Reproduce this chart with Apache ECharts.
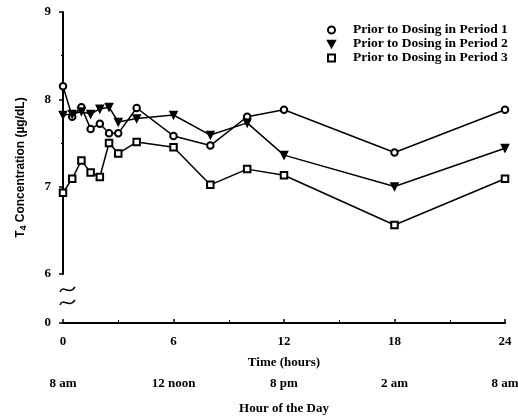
<!DOCTYPE html>
<html>
<head>
<meta charset="utf-8">
<script src="https://cdn.jsdelivr.net/npm/echarts@6/dist/echarts.min.js"></script>
<style>
  html, body { margin: 0; padding: 0; background: #fff; }
  #chart { width: 518px; height: 418px; }
</style>
</head>
<body>
<div id="chart"></div>
<script>
// Sampling times (hours after first sample)
const hours = [0, 0.5, 1, 1.5, 2, 2.5, 3, 4, 6, 8, 10, 12, 18, 24];

// T4 concentration (µg/dL) before dosing in each period
const period1 = [8.15, 7.80, 7.91, 7.66, 7.72, 7.61, 7.61, 7.90, 7.58, 7.47, 7.80, 7.88, 7.39, 7.88];
const period2 = [7.82, 7.83, 7.86, 7.83, 7.89, 7.91, 7.74, 7.78, 7.82, 7.59, 7.73, 7.36, 7.00, 7.44];
const period3 = [6.93, 7.09, 7.30, 7.16, 7.11, 7.50, 7.38, 7.51, 7.45, 7.02, 7.20, 7.13, 6.56, 7.09];

const seriesNames = ['Prior to Dosing in Period 1', 'Prior to Dosing in Period 2', 'Prior to Dosing in Period 3'];

// Axis tick labels
const timeTicks = [0, 6, 12, 18, 24];
const clockLabels = ['8 am', '12 noon', '8 pm', '2 am', '8 am'];

const FONT = 'Liberation Serif';
const INK = '#000';
const triDown = 'path://M0,0L10,0L5,9Z';

const pairs = arr => hours.map((h, i) => [h, arr[i]]);

const baseText = { fontFamily: FONT, fontWeight: 'bold', fontSize: 13, color: INK };

const lineSeries = (name, data, symbol, size) => ({
  name,
  type: 'line',
  data: pairs(data),
  symbol,
  symbolSize: size,
  showSymbol: true,
  lineStyle: { color: INK, width: 1.5 },
  itemStyle: { color: INK, borderColor: INK, borderWidth: 1.6 },
  emphasis: { disabled: true },
  animation: false
});

// small wavy break mark drawn across the value axis
const breakMark = (y) => ({
  type: 'bezierCurve',
  shape: { x1: 60, y1: y + 3, cpx1: 63, cpy1: y - 5, cpx2: 69, cpy2: y + 7, x2: 75, y2: y - 2 },
  style: { fill: null, stroke: INK, lineWidth: 1.5 },
  silent: true
});

const chart = echarts.init(document.getElementById('chart'), null, { renderer: 'canvas' });

chart.setOption({
  animation: false,
  backgroundColor: '#fff',
  grid: { left: 63, right: 13, top: 12, bottom: 95, containLabel: false, outerBoundsMode: 'none' },
  legend: {
    orient: 'vertical',
    left: 322,
    top: 18,
    itemGap: 0,
    itemWidth: 7,
    itemHeight: 7,
    textStyle: Object.assign({}, baseText, { fontSize: 13.5, padding: [0, 0, 0, 13] }),
    data: [
      { name: seriesNames[0], icon: 'emptyCircle' },
      { name: seriesNames[1], icon: triDown },
      { name: seriesNames[2], icon: 'emptyRect' }
    ],
    selectedMode: false
  },
  xAxis: [
    {
      type: 'value',
      min: 0, max: 24, interval: 6,
      name: 'Time (hours)',
      nameLocation: 'middle',
      nameGap: 33,
      nameTextStyle: baseText,
      axisLine: { show: true, lineStyle: { color: INK, width: 2 } },
      axisTick: { show: true, inside: true, length: 4, lineStyle: { color: INK, width: 1.5 } },
      minorTick: { show: true, splitNumber: 2, length: 3, lineStyle: { color: INK, width: 1 } },
      splitLine: { show: false },
      axisLabel: Object.assign({}, baseText, { margin: 12 })
    },
    {
      type: 'value',
      position: 'bottom',
      min: 0, max: 24, interval: 6,
      name: 'Hour of the Day',
      nameLocation: 'middle',
      nameGap: 79,
      nameTextStyle: baseText,
      axisLine: { show: false },
      axisTick: { show: false },
      splitLine: { show: false },
      axisLabel: Object.assign({}, baseText, {
        margin: 54,
        formatter: v => clockLabels[timeTicks.indexOf(v)]
      })
    }
  ],
  yAxis: {
    type: 'value',
    min: 0, max: 9, interval: 1,
    // the axis jumps from 0 straight to 6
    breaks: [{ start: 0, end: 6, gap: '15.8%' }],
    breakArea: { show: false },
    name: 'T{sub|4} Concentration (µg/dL)',
    nameLocation: 'middle',
    nameGap: 35,
    nameTextStyle: {
      fontFamily: 'Liberation Sans', fontWeight: 'bold', fontSize: 12, color: INK,
      rich: { sub: { fontFamily: 'Liberation Sans', fontWeight: 'bold', fontSize: 8.5, color: INK, verticalAlign: 'bottom', padding: [6, 0, 0, 0] } }
    },
    axisLine: { show: true, lineStyle: { color: INK, width: 2 } },
    axisTick: { show: true, inside: false, length: 4, lineStyle: { color: INK, width: 1.5 } },
    minorTick: { show: true, splitNumber: 2, length: 2, lineStyle: { color: INK, width: 1 } },
    splitLine: { show: false },
    axisLabel: Object.assign({}, baseText, { margin: 12 })
  },
  series: [
    lineSeries(seriesNames[0], period1, 'emptyCircle', 6.5),
    lineSeries(seriesNames[1], period2, triDown, 7),
    lineSeries(seriesNames[2], period3, 'emptyRect', 6.5)
  ],
  graphic: [breakMark(289), breakMark(302)]
});
</script>
</body>
</html>
